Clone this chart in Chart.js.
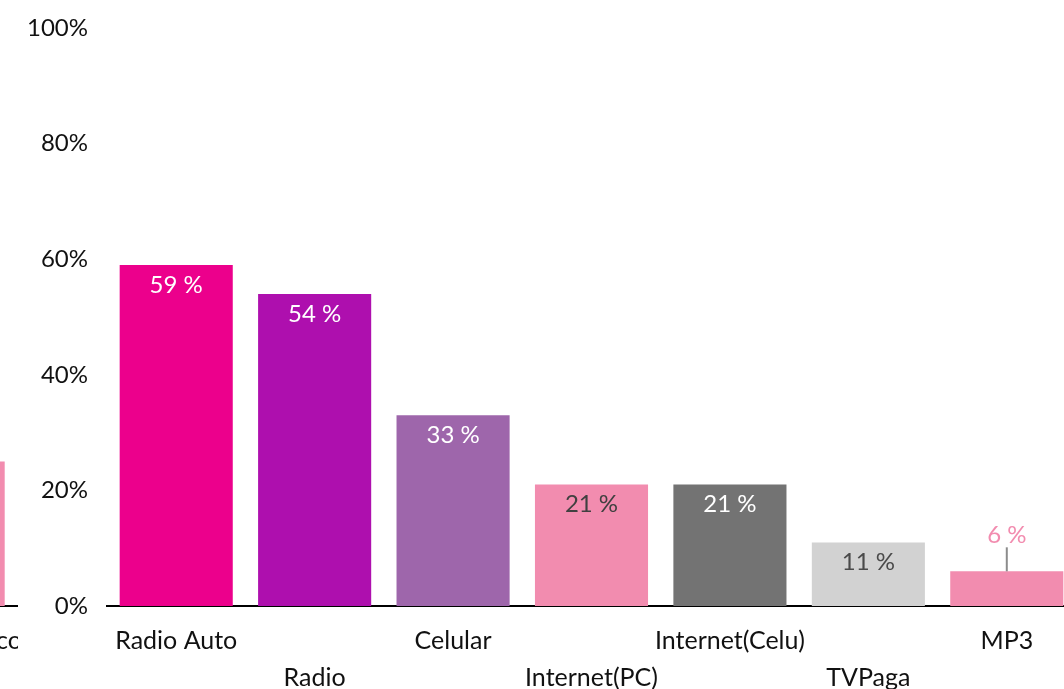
<!DOCTYPE html>
<html>
<head>
<meta charset="utf-8">
<script src="https://cdn.jsdelivr.net/npm/chart.js@4"></script>
<style>
  html, body { margin: 0; padding: 0; background: #fff; overflow: hidden; }
  #wrap { position: relative; width: 1064px; height: 689px; overflow: hidden; }
  #mainChart { position: absolute; left: 0; top: 0; }
  #sideChart { position: absolute; left: -122px; top: 0; }
</style>
</head>
<body>
<div id="wrap">
  <canvas id="sideChart" width="140" height="689"></canvas>
  <canvas id="mainChart" width="1076" height="689"></canvas>
</div>
<script>
// data
var categories = ["Radio Auto", "Radio", "Celular", "Internet(PC)", "Internet(Celu)", "TVPaga", "MP3"];
var values = [59, 54, 33, 21, 21, 11, 6];
var yTicks = [0, 20, 40, 60, 80, 100];

// the chart cut off at the left edge
var sideCategories = ["Lugar Público"];
var sideValues = [25];

var barColors = ["#EC008C", "#AE0FAE", "#9E66AB", "#F28CAF", "#737373", "#D2D2D2", "#F28CAF"];
var labelColors = ["#ffffff", "#ffffff", "#ffffff", "#404040", "#ffffff", "#4a4a4a", "#F28CAF"];
var sideColors = ["#F28CAF"];

var fontFamily = "Lato, 'Open Sans', sans-serif";

// value labels, inside near the top, or above with a short leader for tiny bars
var valueLabels = {
  id: "valueLabels",
  afterDatasetsDraw: function(chart) {
    var ctx = chart.ctx;
    var meta = chart.getDatasetMeta(0);
    var ds = chart.data.datasets[0];
    if (!ds.labelColors) return;
    ctx.save();
    ctx.font = "24px " + fontFamily;
    ctx.textAlign = "center";
    ctx.textBaseline = "middle";
    meta.data.forEach(function(bar, i) {
      var v = ds.data[i];
      var text = v + " %";
      ctx.fillStyle = ds.labelColors[i];
      if (v < 8) {
        ctx.strokeStyle = "#8c8c8c";
        ctx.lineWidth = 2;
        ctx.beginPath();
        ctx.moveTo(bar.x, bar.y);
        ctx.lineTo(bar.x, bar.y - 24);
        ctx.stroke();
        ctx.fillText(text, bar.x, bar.y - 36);
      } else {
        ctx.fillText(text, bar.x, bar.y + 20);
      }
    });
    ctx.restore();
  }
};

function makeOptions(showY) {
  return {
    responsive: false,
    animation: false,
    maintainAspectRatio: false,
    layout: { padding: { top: 28, left: 0, right: 0, bottom: 0 } },
    plugins: { legend: { display: false }, tooltip: { enabled: false } },
    scales: {
      x: {
        grid: { display: false, drawTicks: false },
        border: { display: true, color: "#000000", width: 2 },
        ticks: {
          color: "#111111",
          font: { family: fontFamily, size: 25, lineHeight: 1.48 },
          padding: 16,
          maxRotation: 0,
          autoSkip: false,
          callback: function(val, idx) {
            var lab = this.getLabelForValue(val);
            return idx % 2 === 1 ? ["", lab] : lab;
          }
        },
        afterFit: function(scale) {
          scale.height = 83;
          scale.paddingLeft = 0;
          scale.paddingRight = 0;
        }
      },
      y: {
        display: showY,
        min: 0,
        max: 100,
        afterBuildTicks: function(scale) {
          scale.ticks = yTicks.map(function(v) { return { value: v }; });
        },
        grid: { display: false, drawTicks: false },
        border: { display: false },
        ticks: {
          color: "#111111",
          font: { family: fontFamily, size: 24 },
          padding: 19,
          callback: function(v) { return v + "%"; }
        },
        afterFit: function(scale) {
          scale.width = showY ? 107 : 0;
          scale.paddingTop = 0;
          scale.paddingBottom = 0;
        }
      }
    }
  };
}

var mainChart = new Chart(document.getElementById("mainChart"), {
  type: "bar",
  data: {
    labels: categories,
    datasets: [{
      data: values,
      backgroundColor: barColors,
      labelColors: labelColors,
      barPercentage: 0.817,
      categoryPercentage: 1
    }]
  },
  options: makeOptions(true),
  plugins: [valueLabels]
});

var sideChart = new Chart(document.getElementById("sideChart"), {
  type: "bar",
  data: {
    labels: sideCategories,
    datasets: [{
      data: sideValues,
      backgroundColor: sideColors,
      barPercentage: 0.81,
      categoryPercentage: 1
    }]
  },
  options: makeOptions(false)
});
</script>
</body>
</html>
